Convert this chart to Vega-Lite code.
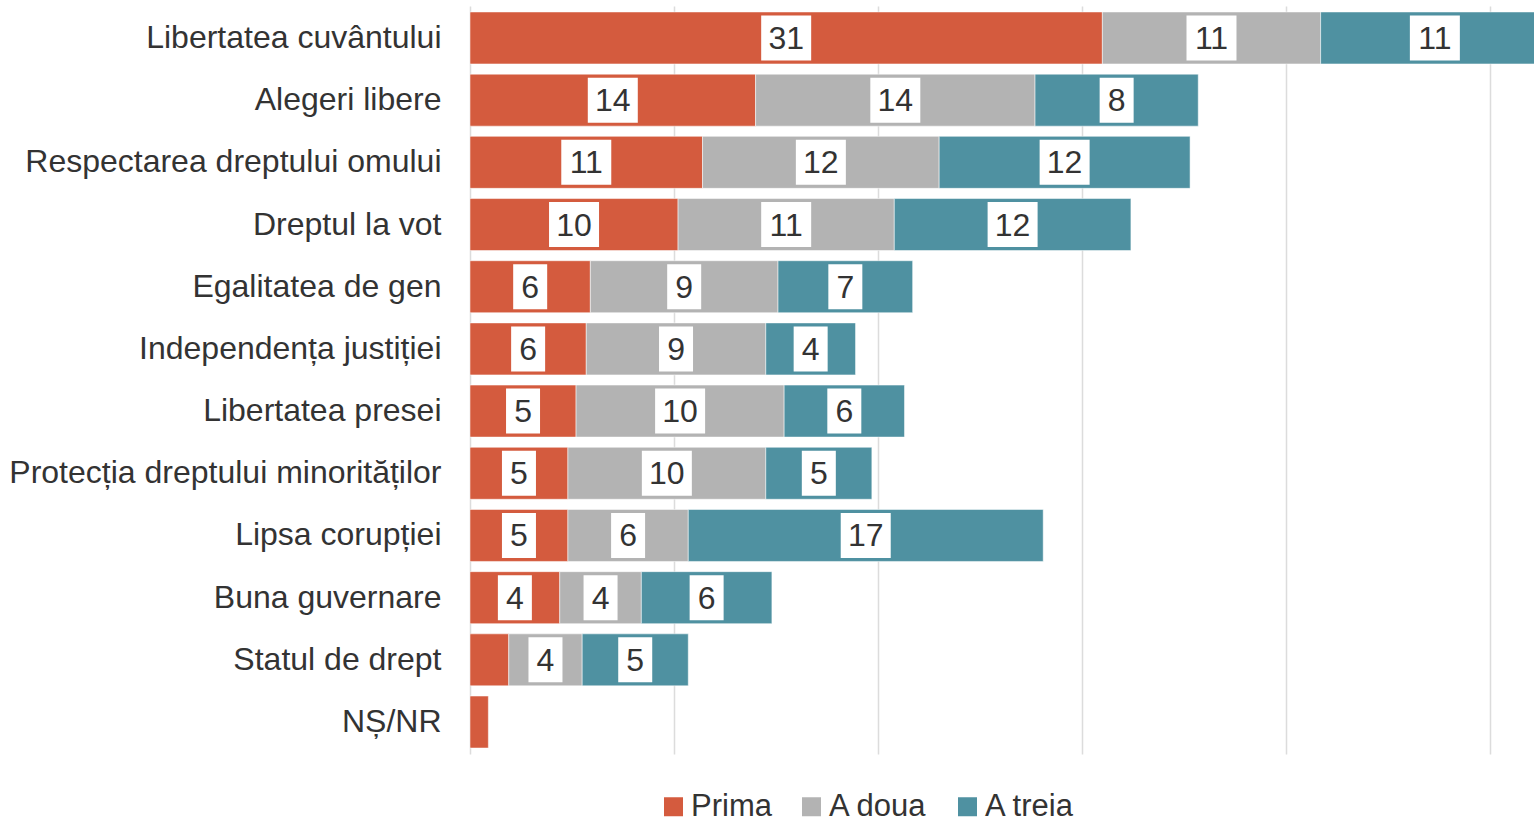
{
  "$schema": "https://vega.github.io/schema/vega-lite/v6.json",
  "autosize": "none",
  "width": 1064,
  "height": 748,
  "padding": {"left": 470, "top": 6, "right": 0, "bottom": 68},
  "background": "#ffffff",
  "config": {"view": {"stroke": null}, "font": "Liberation Sans"},
  "data": {
    "values": [
      {"cat": "Libertatea cuvântului", "series": "Prima", "value": 31.0},
      {"cat": "Libertatea cuvântului", "series": "A doua", "value": 10.7},
      {"cat": "Libertatea cuvântului", "series": "A treia", "value": 11.2},
      {"cat": "Alegeri libere", "series": "Prima", "value": 14.0},
      {"cat": "Alegeri libere", "series": "A doua", "value": 13.7},
      {"cat": "Alegeri libere", "series": "A treia", "value": 8.0},
      {"cat": "Respectarea dreptului omului", "series": "Prima", "value": 11.4},
      {"cat": "Respectarea dreptului omului", "series": "A doua", "value": 11.6},
      {"cat": "Respectarea dreptului omului", "series": "A treia", "value": 12.3},
      {"cat": "Dreptul la vot", "series": "Prima", "value": 10.2},
      {"cat": "Dreptul la vot", "series": "A doua", "value": 10.6},
      {"cat": "Dreptul la vot", "series": "A treia", "value": 11.6},
      {"cat": "Egalitatea de gen", "series": "Prima", "value": 5.9},
      {"cat": "Egalitatea de gen", "series": "A doua", "value": 9.2},
      {"cat": "Egalitatea de gen", "series": "A treia", "value": 6.6},
      {"cat": "Independența justiției", "series": "Prima", "value": 5.7},
      {"cat": "Independența justiției", "series": "A doua", "value": 8.8},
      {"cat": "Independența justiției", "series": "A treia", "value": 4.4},
      {"cat": "Libertatea presei", "series": "Prima", "value": 5.2},
      {"cat": "Libertatea presei", "series": "A doua", "value": 10.2},
      {"cat": "Libertatea presei", "series": "A treia", "value": 5.9},
      {"cat": "Protecția dreptului minorităților", "series": "Prima", "value": 4.8},
      {"cat": "Protecția dreptului minorităților", "series": "A doua", "value": 9.7},
      {"cat": "Protecția dreptului minorităților", "series": "A treia", "value": 5.2},
      {"cat": "Lipsa corupției", "series": "Prima", "value": 4.8},
      {"cat": "Lipsa corupției", "series": "A doua", "value": 5.9},
      {"cat": "Lipsa corupției", "series": "A treia", "value": 17.4},
      {"cat": "Buna guvernare", "series": "Prima", "value": 4.4},
      {"cat": "Buna guvernare", "series": "A doua", "value": 4.0},
      {"cat": "Buna guvernare", "series": "A treia", "value": 6.4},
      {"cat": "Statul de drept", "series": "Prima", "value": 1.9},
      {"cat": "Statul de drept", "series": "A doua", "value": 3.6},
      {"cat": "Statul de drept", "series": "A treia", "value": 5.2},
      {"cat": "NȘ/NR", "series": "Prima", "value": 0.9}
    ]
  },
  "transform": [
    {"calculate": "indexof(['Prima','A doua','A treia'], datum.series)", "as": "ord"},
    {"stack": "value", "groupby": ["cat"], "sort": [{"field": "ord", "order": "ascending"}], "as": ["v0", "v1"]},
    {"calculate": "(datum.v0 + datum.v1) / 2", "as": "mid"}
  ],
  "encoding": {
    "y": {
      "field": "cat",
      "type": "nominal",
      "sort": null,
      "scale": {"paddingInner": 0.164, "paddingOuter": 0.096},
      "axis": {
        "title": null,
        "ticks": false,
        "domain": false,
        "labelFontSize": 32,
        "labelColor": "#333333",
        "labelPadding": 29,
        "labelLimit": 600
      }
    }
  },
  "layer": [
    {
      "mark": {"type": "bar", "clip": true, "stroke": "#ffffff", "strokeWidth": 1, "strokeOpacity": 0.5},
      "encoding": {
        "x": {
          "field": "v0",
          "type": "quantitative",
          "scale": {"domain": [0, 52.16], "nice": false, "zero": true},
          "axis": {
            "title": null,
            "labels": false,
            "ticks": false,
            "domain": false,
            "grid": true,
            "gridColor": "#dcdcdc",
            "gridWidth": 1.5,
            "values": [0, 10, 20, 30, 40, 50]
          }
        },
        "x2": {"field": "v1"},
        "color": {
          "field": "series",
          "type": "nominal",
          "scale": {"domain": ["Prima", "A doua", "A treia"], "range": ["#D45B3E", "#B3B3B3", "#4F91A1"]},
          "legend": {
            "title": null,
            "orient": "none",
            "direction": "horizontal",
            "legendX": 188,
            "legendY": 785,
            "symbolType": "square",
            "symbolSize": 361,
            "symbolStrokeWidth": 0,
            "labelFontSize": 31,
            "labelColor": "#333333",
            "labelOffset": 2,
            "columnPadding": 24
          }
        }
      }
    },
    {
      "transform": [{"filter": "datum.value >= 2.5 && datum.value < 9.5"}],
      "mark": {"type": "tick", "orient": "vertical", "thickness": 34, "size": 45, "color": "#ffffff", "opacity": 1},
      "encoding": {
        "x": {"field": "mid", "type": "quantitative"}
      }
    },
    {
      "transform": [{"filter": "datum.value >= 9.5"}],
      "mark": {"type": "tick", "orient": "vertical", "thickness": 50, "size": 45, "color": "#ffffff", "opacity": 1},
      "encoding": {
        "x": {"field": "mid", "type": "quantitative"}
      }
    },
    {
      "transform": [{"filter": "datum.value >= 2.5"}],
      "mark": {"type": "text", "fontSize": 32, "color": "#333333", "baseline": "middle", "align": "center", "dy": 1},
      "encoding": {
        "x": {"field": "mid", "type": "quantitative"},
        "text": {"field": "value", "type": "quantitative", "format": ".0f"}
      }
    }
  ]
}
